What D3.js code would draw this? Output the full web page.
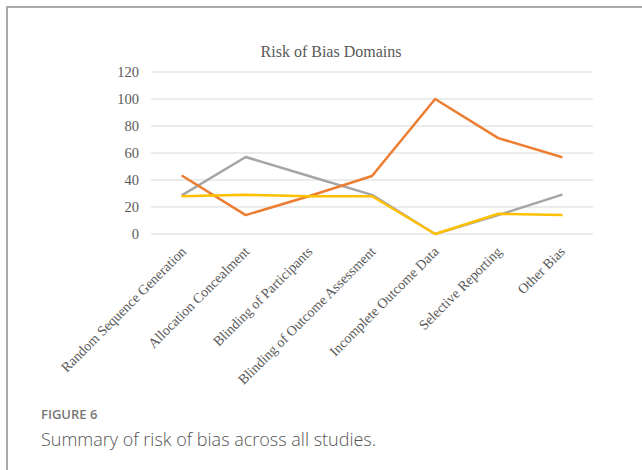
<!DOCTYPE html>
<html><head><meta charset="utf-8">
<script src="https://cdn.jsdelivr.net/npm/d3@7"></script>
<style>body{margin:0;background:#fff;}svg{display:block;}</style>
</head><body>
<svg id="c" width="642" height="470"></svg>
<script>
const categories = ["Random Sequence Generation","Allocation Concealment","Blinding of Participants","Blinding of Outcome Assessment","Incomplete Outcome Data","Selective Reporting","Other Bias"];
const orangeSeries = [43, 14, 28, 43, 100, 71, 57];
const graySeries = [29, 57, 43, 29, 0, 14, 29];
const yellowSeries = [28, 29, 28, 28, 0, 15, 14];
const yTicks = [0, 20, 40, 60, 80, 100, 120];
const title = "Risk of Bias Domains";
const figLabel = "FIGURE 6";
const caption = "Summary of risk of bias across all studies.";

const svg = d3.select("#c");
// frame
svg.append("path").attr("d","M7,470 L7,7 L642,7").attr("fill","none").attr("stroke","#aaaaaa").attr("stroke-width",2);

const x = d3.scaleBand().domain(categories).range([151, 593]).padding(0);
const y = d3.scaleLinear().domain([0, 120]).range([234, 72]);

// gridlines
svg.append("g").selectAll("line").data(yTicks).join("line")
  .attr("x1",151).attr("x2",593).attr("y1",d=>y(d)).attr("y2",d=>y(d))
  .attr("stroke","#d9d9d9").attr("stroke-width",1);

const serif = "'Liberation Serif','Times New Roman',serif";
// y axis labels
const yAxis = d3.axisLeft(y).tickValues(yTicks).tickSize(0).tickPadding(0);
const ga = svg.append("g").attr("transform","translate(139,0)").call(yAxis);
ga.select(".domain").remove();
ga.selectAll("text").style("font-family",serif).style("font-size","14.5px").attr("fill","#595959");

// x labels
const xAxis = d3.axisBottom(x).tickSize(0).tickPadding(0);
const gx = svg.append("g").attr("transform","translate(0,240)").call(xAxis);
gx.select(".domain").remove();
gx.selectAll("text")
  .style("font-family",serif).style("font-size","14px").attr("fill","#595959")
  .attr("text-anchor","end").attr("dy","0.35em").attr("dx",0)
  .attr("transform","translate(1,9) rotate(-45)");

// title
svg.append("text").attr("x",331).attr("y",57).attr("text-anchor","middle")
  .style("font-family",serif).style("font-size","16px").attr("fill","#595959").text(title);

// lines
const line = d3.line().x((d,i)=>x(categories[i]) + x.bandwidth()/2).y(d=>y(d));
[[graySeries,"#a5a5a5"],[orangeSeries,"#ed7d31"],[yellowSeries,"#ffc000"]].forEach(([s,c])=>{
  svg.append("path").datum(s).attr("d",line).attr("fill","none").attr("stroke",c)
    .attr("stroke-width",2.5).attr("stroke-linejoin","round").attr("stroke-linecap","round");
});

// caption
svg.append("text").attr("x",41).attr("y",419).style("font-family","'Open Sans',sans-serif")
  .style("font-size","13px").attr("font-weight",600).attr("fill","#777").text(figLabel);
svg.append("text").attr("x",41).attr("y",446).style("font-family","'Open Sans',sans-serif")
  .style("font-size","18px").attr("font-weight",300).attr("fill","#555").text(caption);
</script>
</body></html>
